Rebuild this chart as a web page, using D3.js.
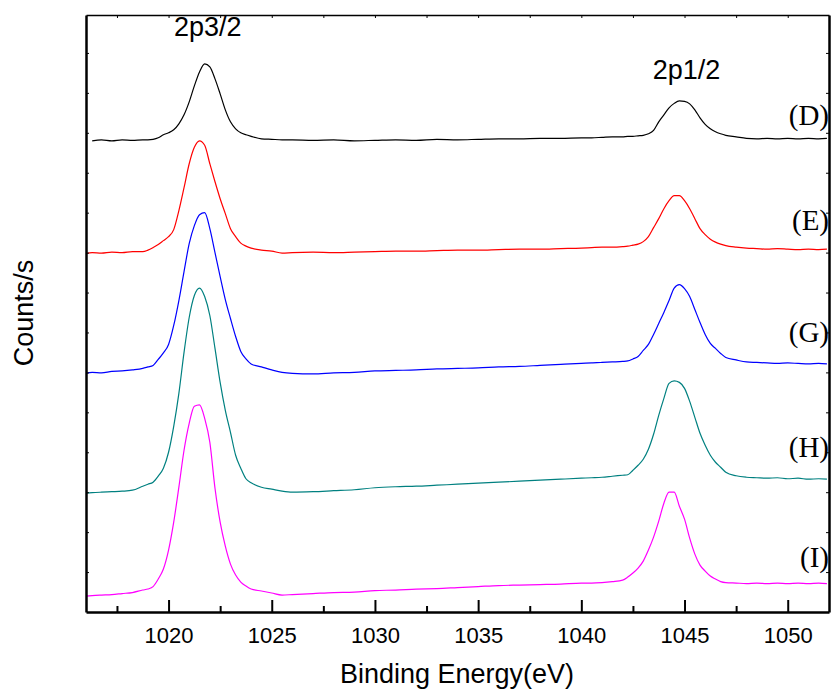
<!DOCTYPE html>
<html>
<head>
<meta charset="utf-8">
<script src="https://cdn.jsdelivr.net/npm/d3@7/dist/d3.min.js"></script>
<style>
    body { margin: 0; background: #fff; }
    svg { display: block; }
    .tick text { font-family: Arial, "Liberation Sans", sans-serif; }
</style>
</head>
<body>
<div id="chart"></div>
<script>
// binding energy grid (eV), shared by all spectra
const energy = [
    1016.0, 1016.3, 1016.75, 1017.25, 1017.75, 1018.25, 1018.75,
    1019.0, 1019.25, 1019.5, 1019.75, 1020.0, 1020.25, 1020.5, 1020.75,
    1021.0, 1021.25, 1021.5, 1021.75, 1022.0, 1022.25, 1022.5, 1022.75,
    1023.0, 1023.25, 1023.5, 1023.75, 1024.0, 1024.5, 1025.0, 1025.5,
    1026, 1027, 1028, 1029, 1030, 1031, 1032, 1033, 1034, 1035, 1036,
    1037, 1038, 1039, 1040, 1040.5, 1041, 1041.5,
    1042.0, 1042.25, 1042.5, 1042.75, 1043.0, 1043.25, 1043.5, 1043.75,
    1044.0, 1044.25, 1044.5, 1044.75, 1045.0, 1045.25, 1045.5, 1045.75,
    1046.0, 1046.25, 1046.5, 1046.75, 1047.0, 1047.5, 1048.0, 1048.5,
    1049.0, 1049.5, 1050.0, 1050.5, 1051.0, 1051.5, 1051.9
];

// counts/s, spectra already offset for stacking
const countsD = [
    null, 11800, 11825, 11800, 11825, 11812, 11825,
    11825, 11837, 11875, 11950, 12000, 12075, 12225, 12450,
    12775, 13175, 13525, 13725, 13650, 13350, 12975, 12575,
    12275, 12100, 12000, 11950, 11912, 11850, 11837, 11825,
    11825, 11812, 11825, 11800, 11812, 11825, 11812, 11837, 11825, 11837, 11850,
    11850, 11862, 11862, 11875, 11875, 11887, 11900,
    11900, 11912, 11912, 11925, 11937, 11975, 12062, 12275,
    12450, 12625, 12737, 12800, 12787, 12725, 12575, 12375,
    12212, 12100, 12025, 11975, 11937, 11900, 11862, 11850,
    11862, 11850, 11862, 11850, 11862, 11850, 11862
];
const countsE = [
    8975, 9000, 8987, 9012, 9000, 9025, 9025,
    9062, 9125, 9200, 9300, 9400, 9575, 10050, 10625,
    11225, 11637, 11800, 11687, 11225, 10775, 10350, 9975,
    9600, 9400, 9237, 9162, 9112, 9062, 9037, 8987,
    9000, 9012, 9000, 9012, 9025, 9037, 9037, 9050, 9062, 9062, 9075,
    9087, 9087, 9100, 9112, 9125, 9137, 9137,
    9150, 9162, 9187, 9212, 9275, 9400, 9625, 9850,
    10100, 10300, 10425, 10425, 10300, 10100, 9850, 9600,
    9450, 9337, 9262, 9212, 9175, 9137, 9112, 9100,
    9087, 9100, 9087, 9075, 9087, 9075, 9087
];
const countsG = [
    5975, 6000, 5987, 6025, 6037, 6062, 6100,
    6137, 6175, 6325, 6487, 6700, 7175, 7800, 8525,
    9225, 9675, 9950, 10000, 9600, 9000, 8400, 7825,
    7350, 6900, 6525, 6337, 6212, 6137, 6062, 6000,
    5975, 5962, 5987, 6000, 6037, 6050, 6062, 6087, 6100, 6112, 6137,
    6150, 6175, 6200, 6225, 6237, 6250, 6262,
    6275, 6287, 6337, 6400, 6550, 6700, 6950, 7225,
    7500, 7800, 8112, 8200, 8100, 7900, 7575, 7250,
    6950, 6725, 6600, 6475, 6375, 6312, 6262, 6250,
    6237, 6225, 6237, 6225, 6212, 6225, 6212
];
const countsH = [
    2975, 2987, 3000, 3012, 3025, 3050, 3150,
    3200, 3250, 3400, 3600, 4000, 4650, 5475, 6500,
    7375, 7925, 8112, 7900, 7425, 6600, 5750, 5050,
    4500, 3925, 3600, 3337, 3237, 3125, 3075, 3025,
    3000, 3012, 3037, 3062, 3112, 3137, 3150, 3175, 3200, 3225, 3250,
    3275, 3300, 3325, 3350, 3362, 3375, 3400,
    3425, 3437, 3550, 3675, 3825, 4075, 4450, 4925,
    5350, 5725, 5787, 5750, 5600, 5275, 4875, 4475,
    4175, 3925, 3750, 3625, 3500, 3412, 3375, 3362,
    3350, 3362, 3337, 3350, 3325, 3337, 3325
];
const countsI = [
    400, 412, 425, 437, 462, 487, 550,
    575, 637, 825, 1075, 1550, 2250, 3125, 4050,
    4725, 5150, 5187, 4850, 4250, 3100, 2250, 1650,
    1200, 925, 750, 650, 575, 525, 475, 425,
    437, 462, 487, 500, 537, 550, 575, 587, 612, 637, 662,
    675, 687, 700, 725, 725, 737, 762,
    800, 875, 975, 1100, 1275, 1550, 1875, 2275,
    2725, 3000, 3000, 2650, 2325, 1850, 1450, 1175,
    1025, 900, 825, 762, 737, 725, 712, 725,
    712, 725, 712, 725, 712, 725, 712
];

const sampleNames = ["(D)", "(E)", "(G)", "(H)", "(I)"];
const peakNames = ["2p3/2", "2p1/2"];
const peakEnergy = [1021.9, 1045.1];
const xMajorTicks = [1020, 1025, 1030, 1035, 1040, 1045, 1050];
const xMinorTicks = [1017.5, 1022.5, 1027.5, 1032.5, 1037.5, 1042.5, 1047.5];

const seriesCounts = [countsD, countsE, countsG, countsH, countsI];
const colors = ["#000000", "#ff0000", "#0000ff", "#008080", "#ff00ff"];
const labelBaselines = [125, 230, 342, 457, 567];

const width = 831;
const height = 694;
const margin = { left: 86, right: 2, top: 15, bottom: 82 };
const innerW = width - margin.left - margin.right;
const innerH = height - margin.top - margin.bottom;

const svg = d3.select("#chart")
    .append("svg")
    .attr("width", width)
    .attr("height", height);

const x = d3.scaleLinear().domain([1016, 1052]).range([margin.left, margin.left + innerW]);
const y = d3.scaleLinear().domain([0, 14950]).range([margin.top + innerH, margin.top]);

const font = "Arial, 'Liberation Sans', sans-serif";

//spectra
const line = d3.line()
    .defined((d) => d[1] !== null)
    .curve(d3.curveMonotoneX)
    .x((d) => x(d[0]))
    .y((d) => y(d[1]));

seriesCounts.forEach((counts, i) => {
    svg.append("path")
        .datum(energy.map((e, j) => [e, counts[j]]))
        .attr("fill", "none")
        .attr("stroke", colors[i])
        .attr("stroke-width", 1.2)
        .attr("stroke-linejoin", "round")
        .attr("d", line);
});

//sample labels at the right
svg.selectAll(".sample")
    .data(sampleNames)
    .enter()
    .append("text")
    .attr("class", "sample")
    .attr("x", 829)
    .attr("y", (d, i) => labelBaselines[i])
    .attr("text-anchor", "end")
    .style("font-family", "'Liberation Serif', 'Times New Roman', serif")
    .style("font-size", "29px")
    .text((d) => d);

//peak labels
svg.selectAll(".peak")
    .data(peakNames)
    .enter()
    .append("text")
    .attr("class", "peak")
    .attr("x", (d, i) => x(peakEnergy[i]))
    .attr("y", (d, i) => (i === 0 ? 36 : 79))
    .attr("text-anchor", "middle")
    .style("font-family", font)
    .style("font-size", "27px")
    .text((d) => d);

const bottomY = margin.top + innerH;
const rightX = margin.left + innerW;

//bottom axis, inward ticks
const xAxis = svg.append("g")
    .attr("transform", `translate(0,${bottomY})`)
    .call(d3.axisBottom(x).tickValues(xMajorTicks).tickSize(-12).tickSizeOuter(0)
        .tickPadding(15.5).tickFormat(d3.format("d")));
xAxis.selectAll(".tick line").attr("stroke-width", 2);
xAxis.selectAll(".tick text").style("font-size", "22px").attr("fill", "#000");
xAxis.select(".domain").attr("stroke-width", 2.5);

svg.append("g")
    .attr("transform", `translate(0,${bottomY})`)
    .call(d3.axisBottom(x).tickValues(xMinorTicks).tickSize(-6).tickSizeOuter(0).tickFormat(""))
    .call((g) => g.select(".domain").remove())
    .selectAll(".tick line").attr("stroke-width", 2);

//top axis
svg.append("g")
    .attr("transform", `translate(0,${margin.top})`)
    .call(d3.axisTop(x).tickValues(xMajorTicks.concat(xMinorTicks)).tickSize(-3).tickSizeOuter(0).tickFormat(""))
    .call((g) => g.select(".domain").attr("stroke-width", 1.5));

//left and right axes, no labels
const yTicks = d3.range(1000, 15000, 1000);
svg.append("g")
    .attr("transform", `translate(${margin.left},0)`)
    .call(d3.axisLeft(y).tickValues(yTicks).tickSize(-3).tickSizeOuter(0).tickFormat(""))
    .call((g) => g.select(".domain").attr("stroke-width", 2.5));

svg.append("g")
    .attr("transform", `translate(${rightX},0)`)
    .call(d3.axisRight(y).tickValues(yTicks).tickSize(-3).tickSizeOuter(0).tickFormat(""))
    .call((g) => g.select(".domain").attr("stroke-width", 2.5));

//axis titles
svg.append("text")
    .attr("x", 457)
    .attr("y", 683)
    .attr("text-anchor", "middle")
    .style("font-family", font)
    .style("font-size", "27px")
    .text("Binding Energy(eV)");

svg.append("text")
    .attr("transform", "translate(33,313)rotate(-90)")
    .attr("text-anchor", "middle")
    .style("font-family", font)
    .style("font-size", "27px")
    .text("Counts/s");
</script>
</body>
</html>
